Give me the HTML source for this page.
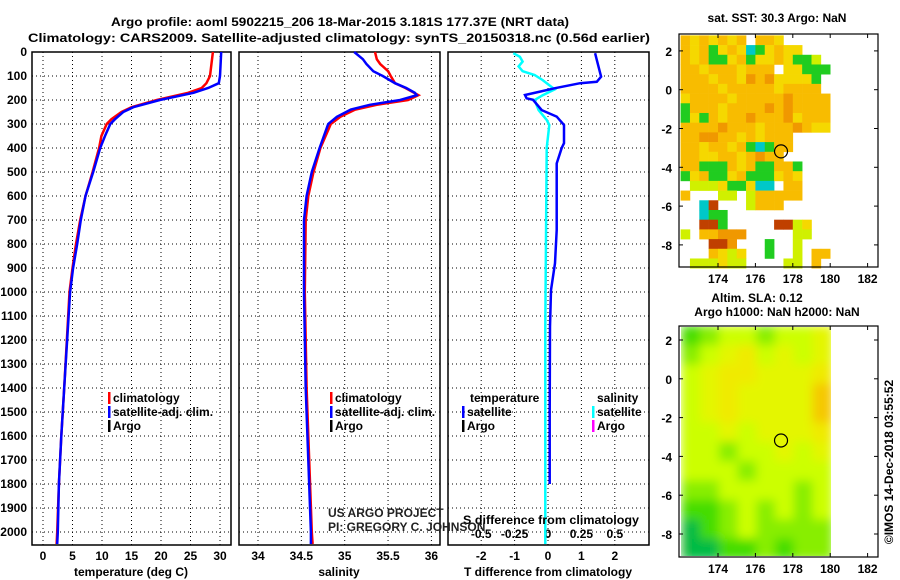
<!DOCTYPE html>
<html><head><meta charset="utf-8"><style>
body{margin:0;background:#fff}
svg{display:block;font-family:"Liberation Sans",sans-serif}
.b{font-weight:bold;font-size:12px}
</style></head><body>
<svg id="c" width="900" height="580" viewBox="0 0 900 580">
<defs>
<filter id="bl" x="0" y="0" width="1" height="1"><feGaussianBlur stdDeviation="5" edgeMode="duplicate"/></filter>
<clipPath id="cp2"><rect x="681" y="327" width="150" height="229"/></clipPath>
</defs>
<g id="root"></g>
</svg>
<script>
// ---- profile data ----
const tDepth=[0,100,130,150,170,200,230,250,280,300,350,400,500,600,700,800,900,1000,1400,1600,1800,2000,2050];
const tClim=[28.8,28.3,27.7,26.9,24.6,19.3,15.0,13.3,11.6,10.8,9.9,9.5,8.4,7.2,6.3,5.6,5.0,4.5,3.6,3.1,2.7,2.4,2.3];
const tSat=[30.2,30.0,29.8,28.0,25.5,19.8,15.3,13.6,12.2,11.4,10.5,9.7,8.5,7.2,6.4,5.8,5.1,4.6,3.6,3.1,2.7,2.5,2.4];
const sDepth=[0,30,50,80,100,130,150,170,180,200,220,240,270,300,400,500,600,700,1000,1400,1700,2000,2050];
const sClim=[35.35,35.37,35.41,35.50,35.53,35.58,35.70,35.80,35.85,35.73,35.37,35.12,34.95,34.84,34.72,34.64,34.58,34.55,34.54,34.56,34.59,34.62,34.63];
const sSat=[35.11,35.21,35.25,35.33,35.44,35.58,35.71,35.81,35.83,35.64,35.29,35.07,34.91,34.81,34.71,34.62,34.56,34.53,34.53,34.55,34.58,34.61,34.61];
const dtDepth=[5,33,103,124,130,151,165,179,193,199,242,269,304,380,400,464,742,880,992,1144,1500,1800];
const dtSat=[1.41,1.46,1.59,1.46,0.96,0.21,-0.24,-0.69,-0.64,-0.45,-0.19,0.26,0.48,0.48,0.41,0.26,0.26,0.21,0.09,0.06,0.05,0.05];
const dsDepth=[5,20,40,60,80,96,117,156,180,200,242,283,304,400,1144,1600,2050];
const dsSat=[-0.26,-0.21,-0.19,-0.22,-0.19,-0.10,-0.04,0.05,-0.04,-0.10,-0.07,-0.01,0.01,-0.01,-0.02,-0.02,-0.02];
const depthTicks=[0,100,200,300,400,500,600,700,800,900,1000,1100,1200,1300,1400,1500,1600,1700,1800,1900,2000];
const tTicks=[0,5,10,15,20,25,30];
const sTicks=[34,34.5,35,35.5,36];
const dtTicks=[-2,-1,0,1,2];
const dsTicks=[-0.5,-0.25,0,0.25,0.5];
// ---- map data ----
const sstRows=[
"oyoyoyo.ooy......",
"oyogyoycgyoyy....",
"oyoggyogyyoyggl..",
"ooyoooyooo.yyggg.",
"oooyooyroryyyyg..",
"ooooyoooooyoooo..",
"yooooyoooooroooo.",
"goooyoooororoooo.",
"gygoyooroooryooo.",
"ooooroooyoooroyy.",
"oorrooyoyooo.....",
"ooyooyogcgoo.....",
"ooyyooyoroo......",
"oogggoyoggoog....",
"gyoggyogggyoy....",
".lllyggycc.oo....",
"o...ll.looooo....",
"..cb...looo......",
"..cgg............",
"..bbg.....bbly...",
"l.oorrr.....ll...",
"...bbr...g..l....",
"...oyly..g..l.oo.",
".lllyll....ll.o.."];
const sstColors={o:"#f8bc00",y:"#f5d800",r:"#f09800",b:"#c04000",g:"#20cc20",c:"#00c8c8",l:"#d0f000"};
const slaVals=[
[1,1.5,2,2,1.5,2,2,2.5],[1.5,2,2.5,3,2,2.5,2,2.5],[2,2.5,3,3,2.5,2.5,2.5,3],[2,2.5,3,2.5,2.5,2.5,2.5,3.5],
[2,2.5,3,2.5,2.5,2.5,2.5,3.5],[2,2,2.5,2,2.5,2.5,2.5,3],[2,2,1.5,2,2,2.5,2,2.5],[2,2,2,1.5,2,2,2,2],
[1.5,1.5,2,2,2,2,1.5,2],[1,1,1.5,2,1.5,2,1.5,2],[0.5,1,1.5,2,1.5,1.5,1.5,1.5],[0.5,0.5,1,1,1.5,1,1.5,1.5]];
const lonTicks=[174,176,178,180,182];
const latTicks=[2,0,-2,-4,-6,-8];
const argoPos=[177.37,-3.181];

const NS="http://www.w3.org/2000/svg",root=document.getElementById('root');
function el(t,a,txt,p){const e=document.createElementNS(NS,t);for(const k in a)e.setAttribute(k,a[k]);if(txt!=null)e.textContent=txt;(p||root).appendChild(e);return e;}
const yD=d=>52+0.24*d;
const xT=t=>43+5.9*t, xS=s=>258+86.7*(s-34), xDT=t=>548+33.4*t, xDS=s=>548+133.6*s;
const panels=[[32,231,tTicks,xT],[239,440,sTicks,xS],[448,649,dtTicks,xDT]];
panels.forEach((p,i)=>{
  const g=el('g',{});
  
  
  depthTicks.forEach(d=>{if(d>0)el('line',{x1:p[0],x2:p[1],y1:yD(d),y2:yD(d),stroke:'#000','stroke-dasharray':'1,3'},null,g);});
  p[2].forEach(v=>{const x=p[3](v);el('line',{x1:x,x2:x,y1:52,y2:545,stroke:'#000','stroke-dasharray':'1,3'},null,g);});
  el('rect',{x:p[0],y:52,width:p[1]-p[0],height:493,fill:'none',stroke:'#000','stroke-width':1.5},null,g);
});
depthTicks.forEach(d=>{const t=el('text',{x:27,y:yD(d)+4,'text-anchor':'end',class:'b'},String(d));});
function xlabels(ticks,f,y,name){ticks.forEach(v=>{const t=el('text',{x:f(v),y:y,'text-anchor':'middle',class:'b'},String(v));});}
xlabels(tTicks,xT,560,'temperature-tick-label');
xlabels(sTicks,xS,560,'salinity-tick-label');
xlabels(dtTicks,xDT,560,'t-difference-tick-label');
xlabels(dsTicks,xDS,538,'s-difference-tick-label');
function line(depths,vals,f,color,name,sw){
  const pts=depths.map((d,i)=>f(vals[i]).toFixed(1)+','+yD(d).toFixed(1)).join(' ');
  const l=el('polyline',{points:pts,fill:'none',stroke:color,'stroke-width':sw||2.5});
  
}
line(tDepth,tClim,xT,'#ff0000','temperature-climatology-line');
line(tDepth,tSat,xT,'#0000ff','temperature-satellite-line');
line(sDepth,sClim,xS,'#ff0000','salinity-climatology-line');
line(sDepth,sSat,xS,'#0000ff','salinity-satellite-line');
line(dsDepth,dsSat,xDS,'#00ffff','s-difference-satellite-line');
line(dtDepth,dtSat,xDT,'#0000ff','t-difference-satellite-line');
function txt(x,y,s,name,extra){const t=el('text',Object.assign({x:x,y:y,class:'b'},extra||{}),s);return t;}
txt(340,26,'Argo profile: aoml 5902215_206 18-Mar-2015 3.181S 177.37E (NRT data)','title-line-1',{'text-anchor':'middle','font-size':'13px',textLength:458,lengthAdjust:'spacingAndGlyphs'});
txt(28,42,'Climatology: CARS2009. Satellite-adjusted climatology: synTS_20150318.nc (0.56d earlier)','title-line-2',{'font-size':'13px',textLength:622,lengthAdjust:'spacingAndGlyphs'});
txt(131,576,'temperature (deg C)','temperature-axis-title',{'text-anchor':'middle'});
txt(339,576,'salinity','salinity-axis-title',{'text-anchor':'middle'});
txt(548,576,'T difference from climatology','t-difference-axis-title',{'text-anchor':'middle'});
txt(463,524,'S difference from climatology','s-difference-axis-title',{textLength:176,lengthAdjust:'spacingAndGlyphs'});
function leg(x,y,color,label,name){const g=el('g',{});
  el('rect',{x:x,y:y-10,width:2.5,height:12,fill:color},null,g);if(label)el('text',{x:x+5,y:y,class:'b','font-size':'12px'},label,g);}
leg(108,402,'#ff0000','climatology','legend-temp-climatology');
leg(108,416,'#0000ff','satellite-adj. clim.','legend-temp-satellite');
leg(108,430,'#000','Argo','legend-temp-argo');
leg(330,402,'#ff0000','climatology','legend-sal-climatology');
leg(330,416,'#0000ff','satellite-adj. clim.','legend-sal-satellite');
leg(330,430,'#000','Argo','legend-sal-argo');
txt(470,402,'temperature','legend-temperature-header');
txt(597,402,'salinity','legend-salinity-header');
leg(462,416,'#0000ff','satellite','legend-diff-t-satellite');
leg(462,430,'#000','Argo','legend-diff-t-argo');
leg(592,416,'#00ffff','satellite','legend-diff-s-satellite');
leg(592,430,'#ff00ff','Argo','legend-diff-s-argo');
txt(328,517,'US ARGO PROJECT','credit-project',{'font-weight':'normal','font-size':'12px',fill:'#222'});
txt(328,531,'PI: GREGORY C. JOHNSON','credit-pi',{'font-weight':'normal','font-size':'12px',fill:'#222'});
// ---- maps ----
const mx=lon=>718+(lon-174)*18.7;
const my1=lat=>89.7-lat*19.4, my2=lat=>378.8-lat*19.4;
const m1=el('g',{});
sstRows.forEach((row,r)=>{[...row].forEach((ch,c)=>{if(ch==='.')return;
  const lon=172+0.5*c,lat=2.8-0.5*r;
  el('rect',{x:mx(lon),y:my1(lat),width:mx(lon+0.5)-mx(lon)+0.3,height:my1(lat-0.5)-my1(lat)+0.3,fill:sstColors[ch]},null,m1);});});
const ramp=[[0,'#00bb44'],[1,'#44dd00'],[1.5,'#88ee00'],[2,'#ccff00'],[2.5,'#e4f600'],[3,'#f0ea00'],[3.5,'#f5c800']];
const col=v=>{let b=ramp[0][1];ramp.forEach(p=>{if(v>=p[0])b=p[1];});return b;};
const m2=el('g',{'clip-path':'url(#cp2)'});
const m2b=el('g',{filter:'url(#bl)'},null,m2);
el('rect',{x:681,y:327,width:150,height:229,fill:'#ccff00'},null,m2b);
slaVals.forEach((row,r)=>row.forEach((v,c)=>{const lon=172.1+c,lat=2.7-r;
  el('rect',{x:mx(lon)-1,y:my2(lat)-1,width:mx(lon+1)-mx(lon)+2,height:my2(lat-1)-my2(lat)+2,fill:col(v)},null,m2b);}));
[[my1,34,267,'sst'],[my2,326,557,'sla']].forEach(([f,top,bot,nm])=>{
  const g=el('g',{});
  el('rect',{x:679,y:top,width:199,height:bot-top,fill:'none',stroke:'#000','stroke-width':1.2},null,g);
  lonTicks.forEach(l=>{el('line',{x1:mx(l),x2:mx(l),y1:top,y2:top+4,stroke:'#000'},null,g);el('line',{x1:mx(l),x2:mx(l),y1:bot,y2:bot-4,stroke:'#000'},null,g);
    el('text',{x:mx(l),y:bot+16,'text-anchor':'middle',class:'b','font-size':'13px'},String(l),g);});
  latTicks.forEach(l=>{el('line',{x1:679,x2:683,y1:f(l),y2:f(l),stroke:'#000'},null,g);el('line',{x1:878,x2:874,y1:f(l),y2:f(l),stroke:'#000'},null,g);
    el('text',{x:672,y:f(l)+5,'text-anchor':'end',class:'b','font-size':'13px'},String(l),g);});
  const c=el('circle',{cx:mx(argoPos[0]),cy:f(argoPos[1]),r:6.5,fill:'none',stroke:'#000','stroke-width':1.2},null,g);
  
});
txt(777,22,'sat. SST: 30.3 Argo: NaN','sst-map-title',{'text-anchor':'middle'});
txt(757,302,'Altim. SLA: 0.12','sla-map-title',{'text-anchor':'middle'});
txt(777,316,'Argo h1000: NaN h2000: NaN','sla-map-subtitle',{'text-anchor':'middle'});
txt(893,462,'©IMOS 14-Dec-2018 03:55:52','timestamp',{'text-anchor':'middle','font-weight':'normal','font-size':'12px',transform:'rotate(-90 893 462)'});
</script>
</body></html>
